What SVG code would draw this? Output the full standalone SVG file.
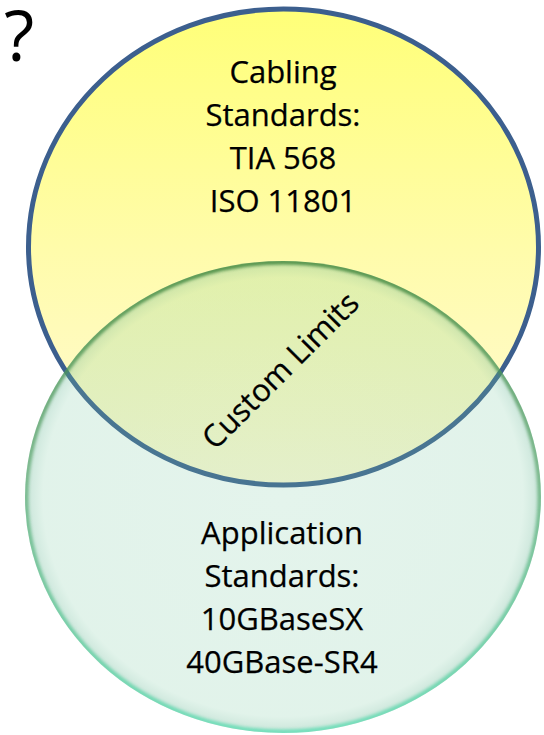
<svg xmlns="http://www.w3.org/2000/svg" width="544" height="735" viewBox="0 0 544 735">
  <style>
    .lbl { font-family: "Open Sans", "Noto Sans", "Liberation Sans", sans-serif; font-size: 31px; fill: #000000; text-anchor: middle; stroke: #000000; stroke-width: 0.25px; }
  </style>
  <defs>
    <linearGradient id="yellowFill" x1="0" y1="0" x2="0" y2="1">
      <stop offset="0" stop-color="#ffff78"/>
      <stop offset="0.5" stop-color="#fffcaa"/>
      <stop offset="1" stop-color="#fff9d6"/>
    </linearGradient>
    <radialGradient id="greenFill" cx="0.5" cy="0.5" r="0.5">
      <stop offset="0" stop-color="#78c8a0" stop-opacity="0.2"/>
      <stop offset="0.93" stop-color="#78c8a0" stop-opacity="0.22"/>
      <stop offset="1" stop-color="#60b090" stop-opacity="0.35"/>
    </radialGradient>
    <linearGradient id="greenEdge" x1="0" y1="0" x2="0" y2="1">
      <stop offset="0" stop-color="#2f7a30"/>
      <stop offset="0.45" stop-color="#5ea870"/>
      <stop offset="1" stop-color="#55dcb0"/>
    </linearGradient>
    <clipPath id="greenClip">
      <ellipse cx="283" cy="497" rx="258" ry="236"/>
    </clipPath>
    <filter id="soft" x="-5%" y="-5%" width="110%" height="110%">
      <feGaussianBlur stdDeviation="1.6"/>
    </filter>
  </defs>

  <g id="question">
    <text x="4" y="61" style="font-family: 'Open Sans', 'Noto Sans', sans-serif; font-size: 70px; fill: #000;">?</text>
  </g>

  <g id="cabling-standards">
    <ellipse cx="283.5" cy="247" rx="255" ry="238" fill="url(#yellowFill)" stroke="#3c5f8e" stroke-width="5"/>
  </g>

  <g id="application-standards">
    <ellipse cx="283" cy="497" rx="258" ry="236" fill="url(#greenFill)"/>
    <g clip-path="url(#greenClip)">
      <ellipse cx="283" cy="497" rx="257" ry="235" fill="none" stroke="url(#greenEdge)" stroke-width="5" opacity="0.75" filter="url(#soft)"/>
    </g>
  </g>

  <g id="connectors"></g>

  <g id="labels">
    <text class="lbl" x="283" y="83">Cabling</text>
    <text class="lbl" x="283" y="126">Standards:</text>
    <text class="lbl" x="283" y="169">TIA 568</text>
    <text class="lbl" x="283" y="212">ISO 11801</text>

    <text class="lbl" x="282" y="544">Application</text>
    <text class="lbl" x="282" y="587">Standards:</text>
    <text class="lbl" x="282" y="630">10GBaseSX</text>
    <text class="lbl" x="282" y="673">40GBase-SR4</text>
  </g>

  <g id="custom-limits">
    <text class="lbl" transform="translate(288,378) rotate(-45)" x="0" y="0">Custom Limits</text>
  </g>
</svg>
